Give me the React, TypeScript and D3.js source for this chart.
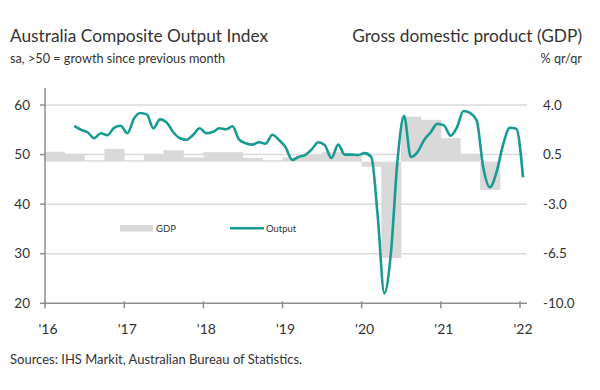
import React from 'react';
import * as d3 from 'd3';

// Composite output index, monthly from May 2016 to Jan 2022
const outputStartYear = 2016;
const outputStartMonth = 4; // May
const outputValues = [
  55.8, 55.0, 54.5, 53.3, 54.3, 53.9, 55.4, 55.8,
  54.3, 57.3, 58.4, 58.1, 55.3, 57.1, 56.5, 54.5, 53.3, 53.0, 54.0, 55.3,
  54.3, 54.6, 55.3, 55.1, 55.7, 53.0, 52.3, 52.0, 52.5, 52.2, 54.0, 53.0,
  51.5, 48.9, 49.5, 49.9, 51.0, 52.5, 51.9, 49.3, 52.0, 50.0, 50.0, 49.9,
  50.3, 49.5, 37.8, 22.0, 30.0, 49.0, 57.8, 49.5, 50.5, 52.9, 54.5, 56.2,
  55.9, 53.8, 55.4, 58.8, 58.4, 56.9, 47.5, 43.4, 46.5, 52.0, 55.4, 55.2,
  45.4,
];

// GDP, % q/q
const gdpQuarters = [
  '2016Q1', '2016Q2', '2016Q3', '2016Q4',
  '2017Q1', '2017Q2', '2017Q3', '2017Q4',
  '2018Q1', '2018Q2', '2018Q3', '2018Q4',
  '2019Q1', '2019Q2', '2019Q3', '2019Q4',
  '2020Q1', '2020Q2', '2020Q3', '2020Q4',
  '2021Q1', '2021Q2', '2021Q3',
];
const gdpValues = [
  0.7, 0.55, 0.1, 0.9,
  0.1, 0.55, 0.8, 0.3,
  0.67, 0.67, 0.27, 0.1,
  0.3, 0.5, 0.67, 0.4,
  -0.35, -6.8, 3.18, 2.95,
  1.66, 0.55, -1.99,
];

const yearTicks = [2016, 2017, 2018, 2019, 2020, 2021, 2022];
const yearLabels = ["'16", "'17", "'18", "'19", "'20", "'21", "'22"];
const leftTicks = [20, 30, 40, 50, 60];
const rightTicks = [-10, -6.5, -3, 0.5, 4];

const FONT = 'Lato, "Noto Sans", sans-serif';
const TEAL = '#189b93';
const GREY_BAR = '#d9d9d9';
const GRID = '#d9d9d9';
const AXIS = '#8c8c8c';
const TEXT = '#333333';

const App = () => {
  const width = 600;
  const height = 390;
  const plotLeft = 45;
  const plotRight = 527;
  const top = 105;
  const bottom = 303.3;

  const x = d3.scaleTime()
    .domain([new Date(2016, 0, 1), new Date(2022, 0, 1)])
    .range([45, 520]);
  const yL = d3.scaleLinear().domain([20, 60]).range([bottom, top]);
  const yR = d3.scaleLinear().domain([-10, 4]).range([bottom, top]);

  const outputPts = outputValues.map((v, i) => ({
    date: new Date(outputStartYear, outputStartMonth + i, 15),
    value: v,
  }));

  const line = d3.line<{ date: Date; value: number }>()
    .x(d => x(d.date))
    .y(d => yL(d.value))
    .curve(d3.curveMonotoneX);

  const bars = gdpQuarters.map((q, i) => {
    const yr = +q.slice(0, 4);
    const qi = +q.slice(5) - 1;
    const x0 = x(new Date(yr, qi * 3, 1));
    const x1 = x(new Date(yr, qi * 3 + 3, 1));
    const v = gdpValues[i];
    return { x0, x1, y0: yR(Math.max(0, v)), y1: yR(Math.min(0, v)) };
  });

  return (
    <svg
      width={width}
      height={height}
      style={{ position: 'absolute', left: 0, top: 0, background: '#fff', fontFamily: FONT }}
    >
      {/* titles */}
      <text x={10} y={42} fontSize={17.3} fill={TEXT}>Australia Composite Output Index</text>
      <text x={10} y={63} fontSize={12.7} fill={TEXT}>sa, &gt;50 = growth since previous month</text>
      <text x={582} y={42} fontSize={17.3} fill={TEXT} textAnchor="end">Gross domestic product (GDP)</text>
      <text x={582} y={63} fontSize={12.7} fill={TEXT} textAnchor="end">% qr/qr</text>

      {/* gridlines */}
      {leftTicks.filter(t => t !== 20).map(t => (
        <line key={'g' + t} x1={plotLeft} x2={plotRight} y1={yL(t)} y2={yL(t)} stroke={GRID} strokeWidth={1.5} />
      ))}

      {/* GDP bars */}
      {bars.map((b, i) => (
        <rect key={'b' + i} x={b.x0} y={b.y0} width={b.x1 - b.x0 + 0.3} height={Math.max(0.5, b.y1 - b.y0)} fill={GREY_BAR} />
      ))}

      {/* axes */}
      <line x1={plotLeft} x2={plotLeft} y1={88} y2={bottom} stroke={AXIS} strokeWidth={1.5} />
      <line x1={plotLeft} x2={plotRight} y1={bottom} y2={bottom} stroke={AXIS} strokeWidth={1.5} />
      {leftTicks.map(t => (
        <g key={'l' + t}>
          <line x1={plotLeft - 5} x2={plotLeft} y1={yL(t)} y2={yL(t)} stroke={AXIS} strokeWidth={1.5} />
          <text x={30} y={yL(t)} dy="0.35em" textAnchor="end" fontSize={13.5} fill={TEXT}>{t}</text>
        </g>
      ))}
      {rightTicks.map(t => (
        <text key={'r' + t} x={543} y={yR(t)} dy="0.35em" fontSize={13.5} fill={TEXT}>{t.toFixed(1)}</text>
      ))}
      {yearTicks.map((yr, i) => {
        const xx = x(new Date(yr, 0, 1));
        return (
          <g key={'x' + yr}>
            <line x1={xx} x2={xx} y1={bottom - 2} y2={bottom + 5} stroke={AXIS} strokeWidth={1.5} />
            <text x={xx + 3} y={334} textAnchor="middle" fontSize={14} fill={TEXT}>{yearLabels[i]}</text>
          </g>
        );
      })}

      {/* output line */}
      <path d={line(outputPts) || ''} fill="none" stroke={TEAL} strokeWidth={2.6} strokeLinejoin="round" />

      {/* legend */}
      <rect x={120} y={225} width={33} height={6.5} fill={GREY_BAR} />
      <text x={156} y={228.3} dy="0.35em" fontSize={9.5} fill={TEXT}>GDP</text>
      <line x1={230} x2={264} y1={228.3} y2={228.3} stroke={TEAL} strokeWidth={2.6} />
      <text x={266} y={228.3} dy="0.35em" fontSize={9.5} fill={TEXT}>Output</text>

      {/* source */}
      <text x={10} y={364} fontSize={13} fill={TEXT}>Sources: IHS Markit, Australian Bureau of Statistics.</text>
    </svg>
  );
};

export default App;
